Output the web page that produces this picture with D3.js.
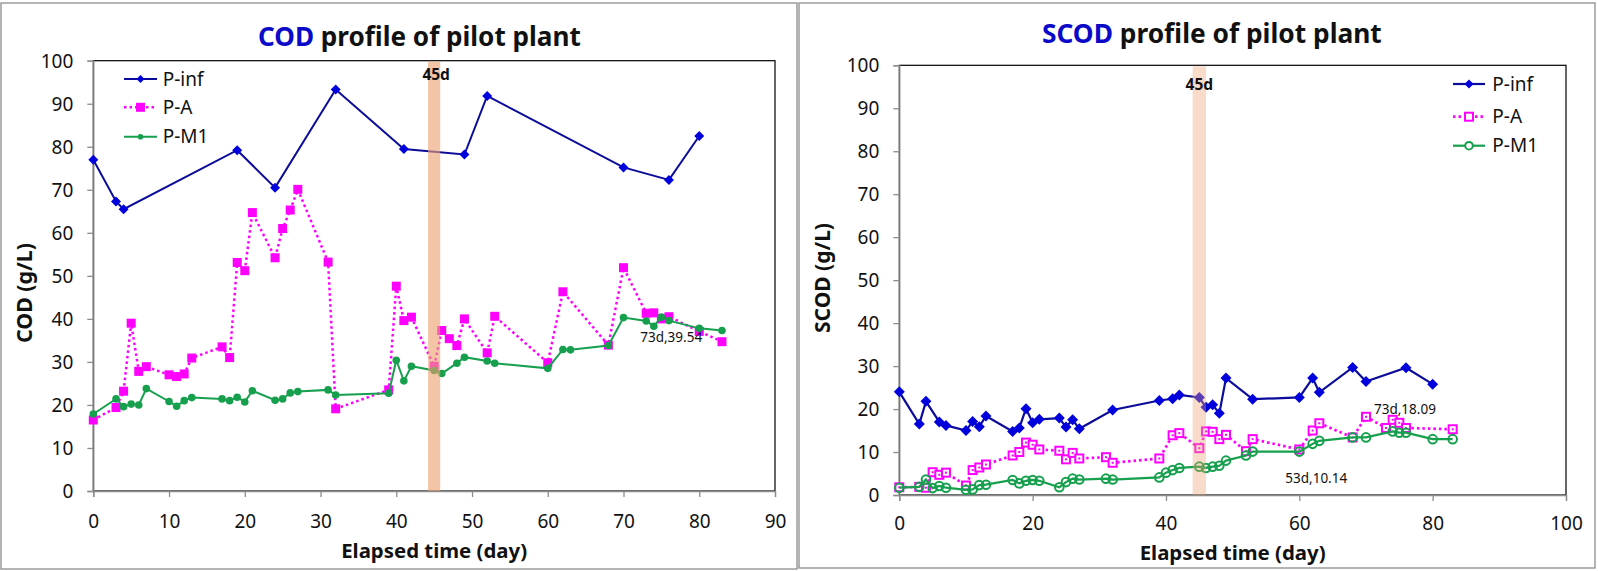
<!DOCTYPE html>
<html><head><meta charset="utf-8">
<script src="https://cdn.jsdelivr.net/npm/d3@7"></script>
<style>
html,body{margin:0;padding:0;background:#fff;}
svg{display:block;}
text{font-family:"Noto Sans","Open Sans",sans-serif;}
</style></head>
<body><svg id="c" width="1598" height="571"></svg>
<script>
// ---- Data: COD chart ----
const codInfDays = [0,3,4,19,24,32,41,49,52,70,76,80];
const codInfVals = [77.0,67.3,65.5,79.2,70.5,93.3,79.5,78.2,91.8,75.2,72.3,82.5];
const codADays = [0,3,4,5,6,7,10,11,12,13,17,18,19,20,21,24,25,26,27,31,32,39,40,41,42,45,46,47,48,49,52,53,60,62,68,70,73,74,75,76,80,83];
const codAVals = [16.5,19.4,23.2,39.0,27.8,28.9,27.0,26.6,27.2,30.9,33.5,31.0,53.1,51.2,64.7,54.2,61.0,65.3,70.1,53.2,19.1,23.5,47.6,39.6,40.4,29.0,37.3,35.4,33.8,40.0,32.1,40.6,29.8,46.3,33.9,51.9,41.3,41.4,40.0,40.5,37.1,34.7];
const codM1Days = [0,3,4,5,6,7,10,11,12,13,17,18,19,20,21,24,25,26,27,31,32,39,40,41,42,45,46,48,49,52,53,60,62,63,68,70,73,74,75,76,80,83];
const codM1Vals = [17.9,21.4,19.6,20.2,20.0,23.8,20.8,19.7,21.0,21.7,21.4,21.0,21.8,20.7,23.3,21.1,21.4,22.8,23.1,23.5,22.3,22.7,30.4,25.6,29.0,28.0,27.3,29.7,31.1,30.2,29.7,28.5,32.9,32.8,33.8,40.3,39.5,38.3,40.4,39.6,37.8,37.3];
const codXTicks = [0,10,20,30,40,50,60,70,80,90];
const codYTicks = [0,10,20,30,40,50,60,70,80,90,100];

// ---- Data: SCOD chart ----
const scodInfDays = [0,3,4,6,7,10,11,12,13,17,18,19,20,21,24,25,26,27,32,39,41,42,45,46,47,48,49,53,60,62,63,68,70,76,80];
const scodInfVals = [24.0,16.5,21.8,17.0,16.2,15.0,17.1,15.9,18.4,14.8,15.6,20.1,16.8,17.6,17.9,15.8,17.5,15.4,19.8,22.0,22.4,23.3,22.7,20.4,21.0,19.0,27.2,22.3,22.7,27.2,23.9,29.7,26.4,29.6,25.8];
const scodADays = [0,3,4,5,6,7,10,11,12,13,17,18,19,20,21,24,25,26,27,31,32,39,41,42,45,46,47,48,49,52,53,60,62,63,68,70,73,74,75,76,83];
const scodAVals = [1.8,1.9,1.7,5.3,4.7,5.2,2.2,5.8,6.4,7.1,9.2,10.0,12.2,11.7,10.6,10.3,8.3,9.8,8.5,8.8,7.5,8.5,13.9,14.4,10.9,14.8,14.7,13.0,14.0,10.2,13.0,10.6,15.0,16.7,13.4,18.2,15.6,17.5,16.8,15.6,15.3];
const scodM1Days = [0,3,4,5,6,7,10,11,12,13,17,18,19,20,21,24,25,26,27,31,32,39,40,41,42,45,46,47,48,49,52,53,60,62,63,68,70,74,75,76,80,83];
const scodM1Vals = [1.7,1.9,3.6,1.6,2.1,1.7,1.2,1.3,2.3,2.4,3.5,2.7,3.3,3.5,3.3,1.8,3.0,3.8,3.6,3.8,3.6,4.1,5.2,5.8,6.3,6.6,6.3,6.6,6.8,8.0,9.2,10.1,10.1,11.9,12.6,13.4,13.4,14.8,14.5,14.5,13.0,13.0];
const scodXTicks = [0,20,40,60,80,100];
const scodYTicks = [0,10,20,30,40,50,60,70,80,90,100];

const seriesNames = ["P-inf","P-A","P-M1"];

const svg = d3.select("#c");
const BLUE_LINE = "#0c0c9a", BLUE_MK = "#0000dd", MAG = "#ff00ff", GREEN = "#16a04e";

function zip(ds, vs){ return ds.map((d,i)=>({x:d,y:vs[i]})); }
function diamond(r){ return `M0,${-r}L${r},0L0,${r}L${-r},0Z`; }
function fitWidth(sel, size, target){
  const w = sel.node().getComputedTextLength();
  if(w>0) sel.attr("font-size", size*target/w);
}

function drawChart(cfg){
  const g = svg.append("g");
  g.append("rect").attr("x",cfg.frame[0]).attr("y",cfg.frame[1])
    .attr("width",cfg.frame[2]).attr("height",cfg.frame[3])
    .attr("fill","#fff").attr("stroke","#8c8c8c").attr("stroke-width",1.3);
  const x = d3.scaleLinear().domain(cfg.xDomain).range([cfg.left, cfg.right]);
  const y = d3.scaleLinear().domain([0,100]).range([cfg.bottom, cfg.top]);
  g.append("rect").attr("x",cfg.left).attr("y",cfg.top)
    .attr("width",cfg.right-cfg.left).attr("height",cfg.bottom-cfg.top)
    .attr("fill","none").attr("stroke","#000").attr("stroke-width",1.2);
  const xa = g.append("g").attr("transform",`translate(0,${cfg.bottom})`)
    .call(d3.axisBottom(x).tickValues(cfg.xTicks).tickSize(6).tickPadding(cfg.xPad).tickFormat(d3.format("d")));
  const ya = g.append("g").attr("transform",`translate(${cfg.left},0)`)
    .call(d3.axisLeft(y).tickValues(cfg.yTicks).tickSize(6).tickPadding(14).tickFormat(d3.format("d")));
  [xa,ya].forEach(a=>{
    a.select(".domain").attr("stroke","#8c8c8c").attr("stroke-width",1.3);
    a.selectAll(".tick line").attr("stroke","#8c8c8c").attr("stroke-width",1.3);
    a.selectAll(".tick text").attr("font-family","'Noto Sans',sans-serif").attr("font-size",19).attr("fill","#111");
  });
  ya.selectAll(".tick text").attr("dy","0.35em");

  const line = d3.line().x(d=>x(d.x)).y(d=>y(d.y));
  const inf = zip(cfg.inf[0], cfg.inf[1]);
  const pa = zip(cfg.a[0], cfg.a[1]);
  const m1 = zip(cfg.m1[0], cfg.m1[1]);
  const lw = cfg.lw;

  g.append("path").datum(pa).attr("d",line).attr("fill","none")
    .attr("stroke",MAG).attr("stroke-width",lw+0.5).attr("stroke-dasharray","2.5,3");
  g.append("g").selectAll("rect").data(pa).join("rect")
    .attr("x",d=>x(d.x)-cfg.sq).attr("y",d=>y(d.y)-cfg.sq)
    .attr("width",cfg.sq*2).attr("height",cfg.sq*2)
    .attr("fill",cfg.open?"#fff":MAG).attr("stroke",MAG).attr("stroke-width",cfg.open?2:0);
  if(cfg.open){
    g.append("g").selectAll("rect").data(pa).join("rect")
      .attr("x",d=>x(d.x)-1).attr("y",d=>y(d.y)-1).attr("width",2).attr("height",2).attr("fill",MAG);
  }
  g.append("path").datum(m1).attr("d",line).attr("fill","none")
    .attr("stroke",GREEN).attr("stroke-width",lw);
  g.append("g").selectAll("circle").data(m1).join("circle")
    .attr("cx",d=>x(d.x)).attr("cy",d=>y(d.y)).attr("r",cfg.cr)
    .attr("fill",cfg.open?"none":GREEN).attr("stroke",GREEN).attr("stroke-width",cfg.open?2:0);
  g.append("path").datum(inf).attr("d",line).attr("fill","none")
    .attr("stroke",BLUE_LINE).attr("stroke-width",lw);
  g.append("g").selectAll("path").data(inf).join("path")
    .attr("transform",d=>`translate(${x(d.x)},${y(d.y)})`)
    .attr("d",diamond(cfg.dr)).attr("fill",BLUE_MK);

  g.append("rect").attr("x",x(cfg.band[0])).attr("y",cfg.top+1)
    .attr("width",x(cfg.band[1])-x(cfg.band[0])).attr("height",cfg.bottom-cfg.top-1)
    .attr("fill","#eda070").attr("opacity",cfg.bandOp);
  g.append("text").attr("x",x(45)+cfg.bandLabelDx).attr("y",cfg.bandLabelY)
    .attr("text-anchor","middle").attr("font-family","'Liberation Sans',Arial,sans-serif")
    .attr("font-weight","bold").attr("font-size",15.5).attr("fill","#111").text("45d");

  cfg.notes.forEach(n=>{
    g.append("text").attr("x",x(n.x)+n.dx).attr("y",y(n.y)+n.dy)
      .attr("font-family","'Liberation Sans',Arial,sans-serif").attr("font-size",13.5)
      .attr("fill","#111").text(n.t);
  });

  const t = g.append("text").attr("x",cfg.titleX).attr("y",cfg.titleY)
    .attr("font-size",24).attr("font-weight","bold").attr("fill","#111");
  t.append("tspan").attr("fill","#0a0ac8").text(cfg.titleBlue);
  t.append("tspan").text(" profile of pilot plant");
  fitWidth(t, 24, cfg.titleW);

  const xt = g.append("text").attr("x",(cfg.left+cfg.right)/2).attr("y",cfg.xTitleY)
    .attr("text-anchor","middle").attr("font-size",19).attr("font-weight","bold").attr("fill","#111")
    .text("Elapsed time (day)");
  fitWidth(xt, 19, 186);
  const yt = g.append("text").attr("transform",`translate(${cfg.yTitleX},${cfg.yTitleY}) rotate(-90)`)
    .attr("text-anchor","middle").attr("dy","0.35em").attr("font-size",19).attr("font-weight","bold").attr("fill","#111")
    .text(cfg.yTitle);
  fitWidth(yt, 19, cfg.yTitleW);

  const L = cfg.legend;
  seriesNames.forEach((nm,i)=>{
    const yy = L.ys[i];
    const lg = g.append("g");
    const ln = lg.append("line").attr("x1",L.x1).attr("x2",L.x2).attr("y1",yy).attr("y2",yy)
      .attr("stroke-width", i===1?lw+0.5:lw);
    const mx = (L.x1+L.x2)/2;
    if(i===0){
      ln.attr("stroke",BLUE_LINE);
      lg.append("path").attr("transform",`translate(${mx},${yy})`).attr("d",diamond(cfg.dr-1)).attr("fill",BLUE_MK);
    } else if(i===1){
      ln.attr("stroke",MAG).attr("stroke-dasharray","2.5,3");
      lg.append("rect").attr("x",mx-cfg.sq).attr("y",yy-cfg.sq).attr("width",cfg.sq*2).attr("height",cfg.sq*2)
        .attr("fill",cfg.open?"#fff":MAG).attr("stroke",MAG).attr("stroke-width",cfg.open?2:0);
    } else {
      ln.attr("stroke",GREEN);
      lg.append("circle").attr("cx",mx).attr("cy",yy).attr("r",cfg.open?cfg.cr-0.5:cfg.cr-1)
        .attr("fill",cfg.open?"#fff":GREEN).attr("stroke",GREEN).attr("stroke-width",cfg.open?2:0);
    }
    lg.append("text").attr("x",L.tx).attr("y",yy).attr("dy","0.35em")
      .attr("font-size",19).attr("fill","#111").text(nm);
  });
}

drawChart({
  frame:[1,3,796,566],
  left:93.3, right:775, top:60.7, bottom:491,
  xDomain:[0,90], xTicks:codXTicks, yTicks:codYTicks, xPad:18,
  inf:[codInfDays,codInfVals], a:[codADays,codAVals], m1:[codM1Days,codM1Vals],
  lw:2, sq:4.5, cr:3.8, dr:5, open:false,
  band:[44.2,45.8], bandOp:0.62, bandLabelDx:2, bandLabelY:80,
  notes:[{x:73,y:39.54,dx:-6,dy:21,t:"73d,39.54"}],
  titleBlue:"COD", titleX:258, titleY:46, titleW:323,
  xTitleY:558, yTitle:"COD (g/L)", yTitleX:25, yTitleY:293, yTitleW:100,
  legend:{x1:124,x2:157,tx:162.7,ys:[79,107.3,136.7]}
});

drawChart({
  frame:[799,3,796,565],
  left:899.3, right:1566, top:65.3, bottom:495,
  xDomain:[0,100], xTicks:scodXTicks, yTicks:scodYTicks, xPad:16,
  inf:[scodInfDays,scodInfVals], a:[scodADays,scodAVals], m1:[scodM1Days,scodM1Vals],
  lw:2.2, sq:4, cr:4.3, dr:5.5, open:true,
  band:[44.0,46.0], bandOp:0.38, bandLabelDx:0, bandLabelY:90,
  notes:[{x:60,y:10.14,dx:-14,dy:32,t:"53d,10.14"},{x:73,y:18.09,dx:-12,dy:-3,t:"73d,18.09"}],
  titleBlue:"SCOD", titleX:1042, titleY:43, titleW:340,
  xTitleY:560, yTitle:"SCOD (g/L)", yTitleX:823, yTitleY:278, yTitleW:110,
  legend:{x1:1453,x2:1485,tx:1492.3,ys:[84,116.7,145.7]}
});
</script></body></html>
